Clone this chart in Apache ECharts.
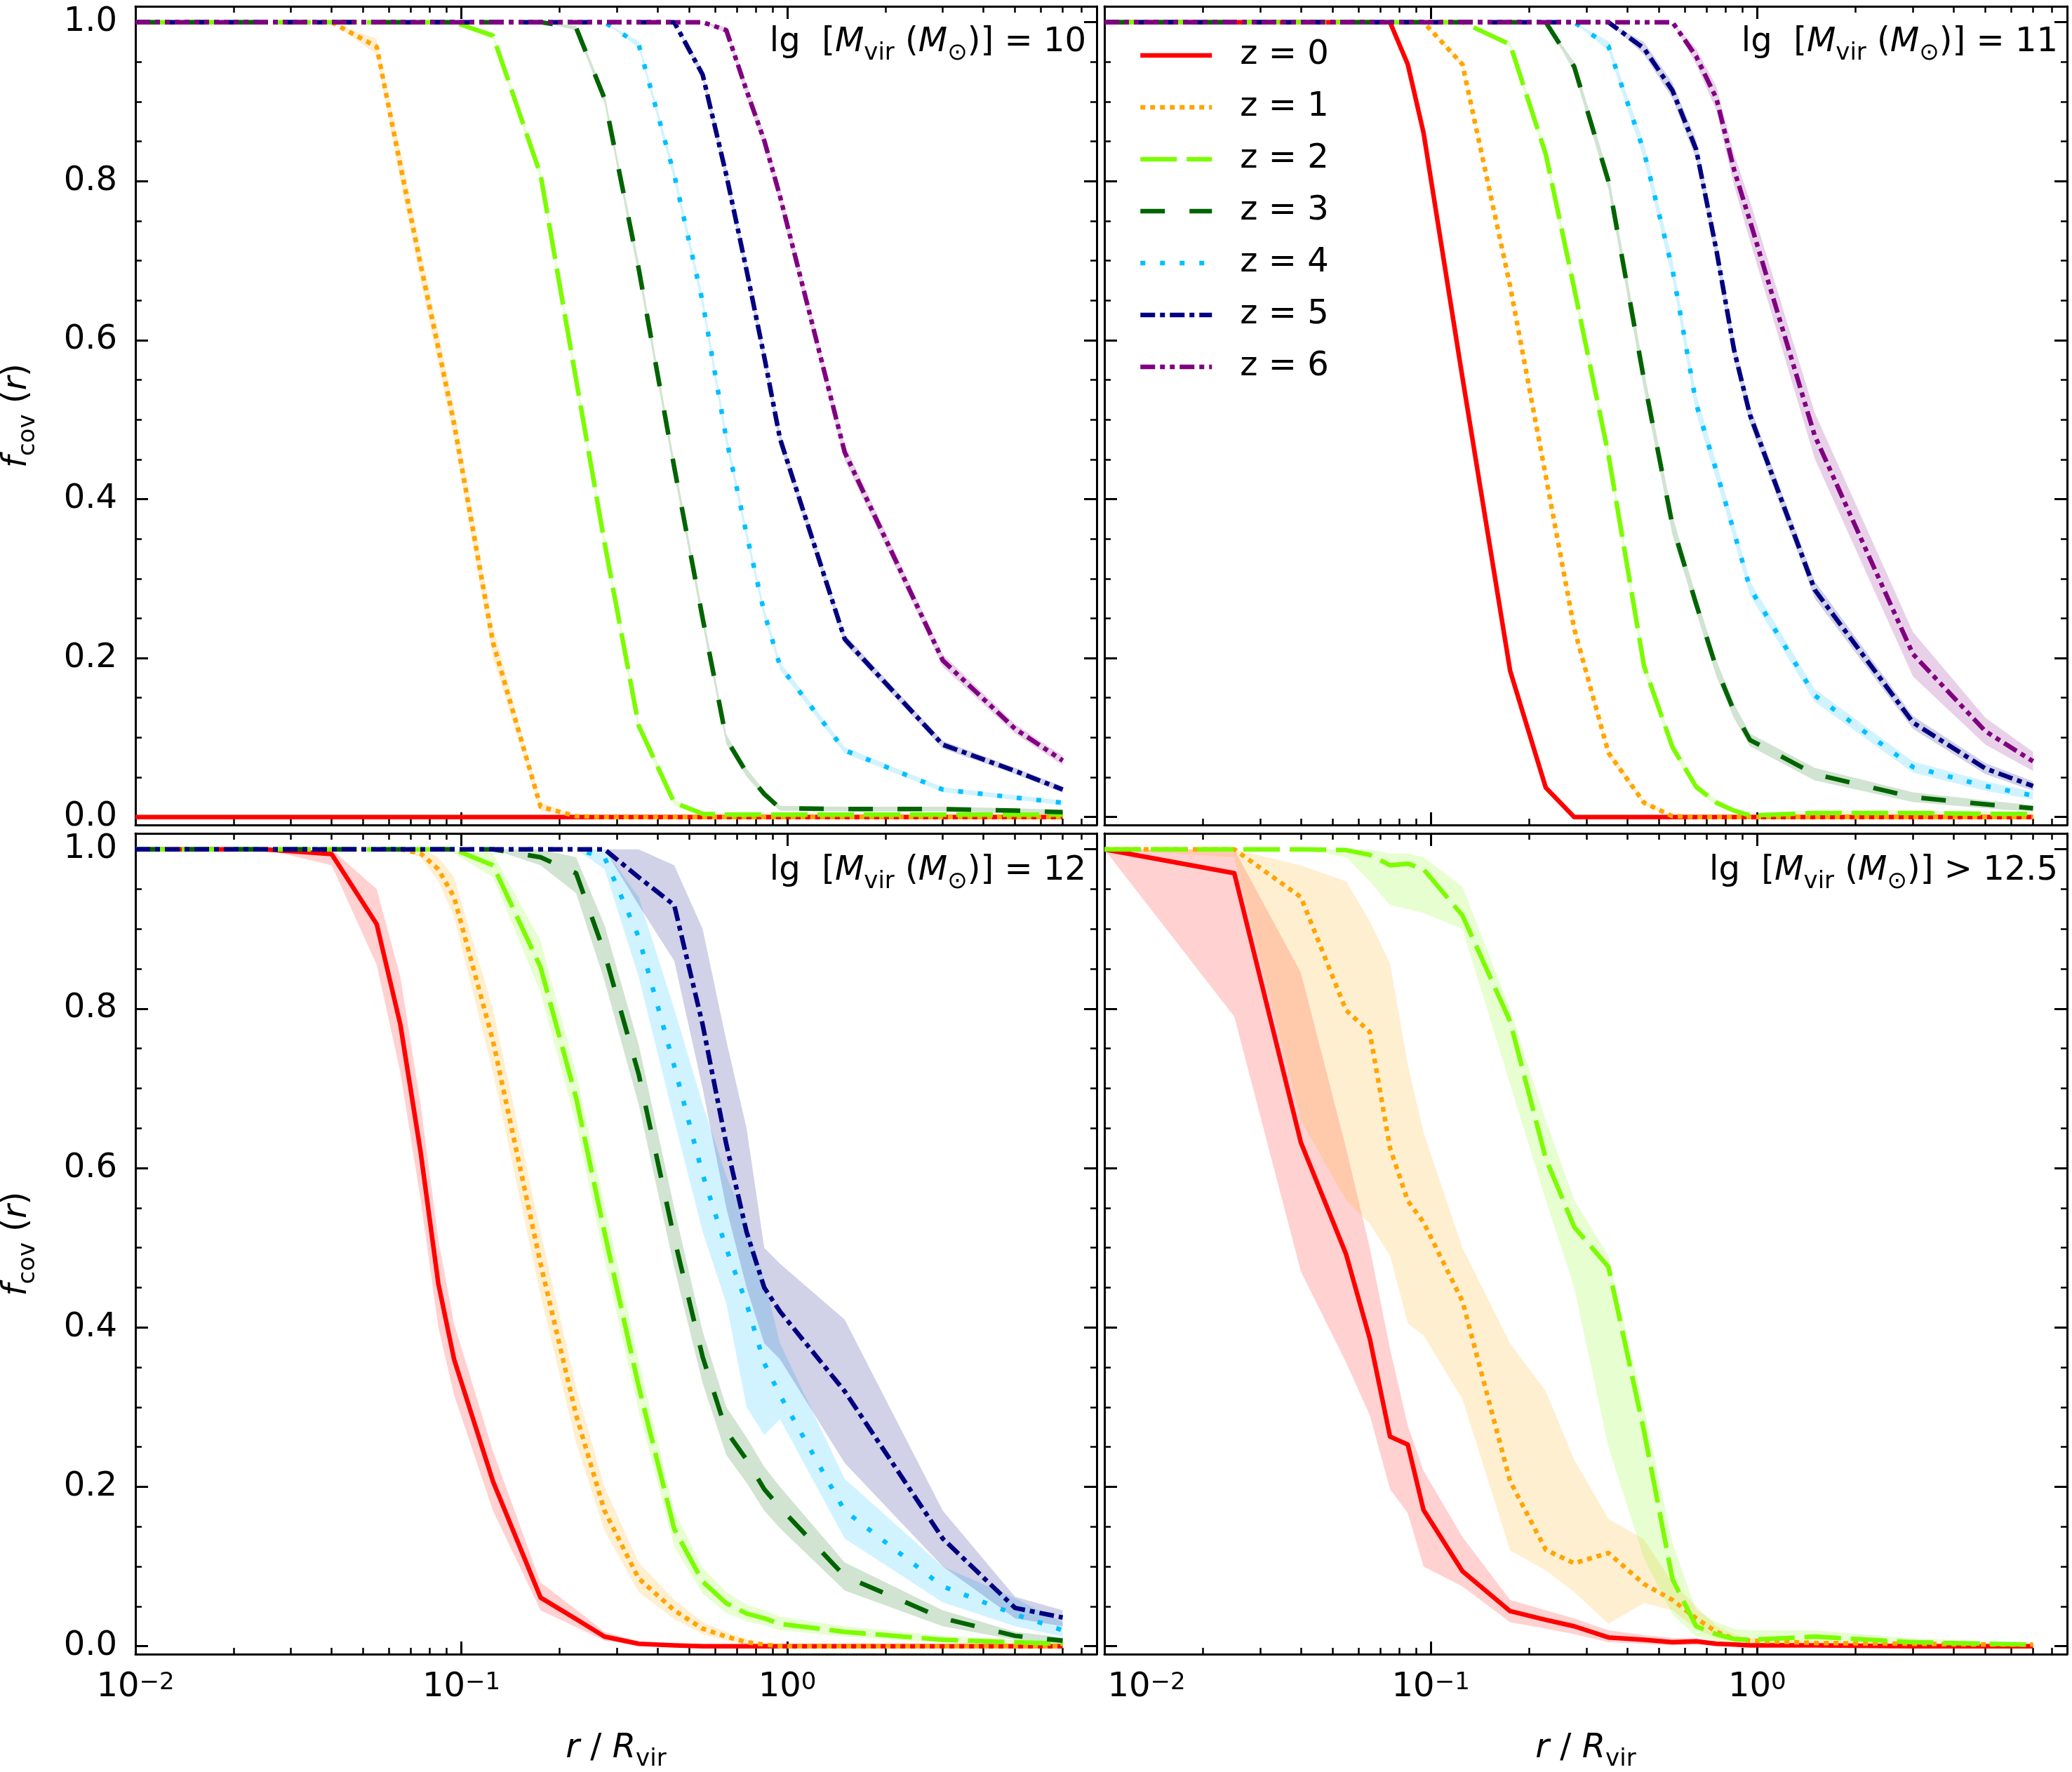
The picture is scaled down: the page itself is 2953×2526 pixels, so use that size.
<!DOCTYPE html>
<html>
<head>
<meta charset="utf-8">
<script src="https://cdn.jsdelivr.net/npm/echarts@6/dist/echarts.min.js"></script>
<style>html,body{margin:0;padding:0;background:#fff}#c{width:2953px;height:2526px}</style>
</head>
<body>
<div id="c"></div>
<script>
// ---------------- data ----------------
const R = [0.01, 0.025, 0.04, 0.055, 0.065, 0.075, 0.085, 0.095, 0.125, 0.175, 0.225, 0.275, 0.35, 0.45, 0.55, 0.65, 0.75, 0.85, 0.95, 1.5, 3, 5, 7];
const Z_LABELS = ['z = 0', 'z = 1', 'z = 2', 'z = 3', 'z = 4', 'z = 5', 'z = 6'];
const X_MAJOR = [0.01, 0.1, 1];
const X_MINOR = [0.02, 0.03, 0.04, 0.05, 0.06, 0.07, 0.08, 0.09, 0.2, 0.3, 0.4, 0.5, 0.6, 0.7, 0.8, 0.9, 2, 3, 4, 5, 6, 7, 8];
const Y_MAJOR = [0, 0.2, 0.4, 0.6, 0.8, 1.0];
const Y_MINOR = [0.05, 0.1, 0.15, 0.25, 0.3, 0.35, 0.45, 0.5, 0.55, 0.65, 0.7, 0.75, 0.85, 0.9, 0.95];
const PANEL_MASS = ['= 10', '= 11', '= 12', '> 12.5'];

// Panel A: lg Mvir = 10
const A_Z0 = [0,0,0,0,0,0,0,0,0,0,0,0,0,0,0,0,0,0,0,0,0,0,0];
const A_Z1 = [1,1,1,0.969,0.82,0.695,0.59,0.495,0.22,0.013,0.001,0,0,0,0,0,0,0,0,0,0,0,0];
const A_Z1_E = [0,0,0,0.01,0.02,0.02,0.02,0.02,0.02,0.006,0,0,0,0,0,0,0,0,0,0,0,0,0];
const A_Z2 = [1,1,1,1,1,1,1,1,0.983,0.808,0.55,0.345,0.115,0.018,0.004,0.003,0.003,0.003,0.003,0.003,0.003,0.003,0.003];
const A_Z2_E = [0,0,0,0,0,0,0,0,0.004,0.006,0.008,0.008,0.006,0.004,0.002,0.002,0.002,0.002,0.002,0.002,0.002,0.002,0.002];
const A_Z3 = [1,1,1,1,1,1,1,1,1,1,0.993,0.904,0.69,0.44,0.25,0.098,0.056,0.029,0.011,0.01,0.01,0.008,0.006];
const A_Z3_E = [0,0,0,0,0,0,0,0,0,0,0.003,0.006,0.008,0.008,0.008,0.006,0.005,0.004,0.003,0.003,0.003,0.003,0.003];
const A_Z4 = [1,1,1,1,1,1,1,1,1,1,1,1,0.972,0.808,0.648,0.476,0.356,0.257,0.19,0.084,0.0345,0.0245,0.018];
const A_Z4_E = [0,0,0,0,0,0,0,0,0,0,0,0,0.004,0.007,0.008,0.008,0.007,0.006,0.005,0.004,0.003,0.003,0.003];
const A_Z5 = [1,1,1,1,1,1,1,1,1,1,1,1,1,1,0.934,0.808,0.688,0.579,0.476,0.224,0.091,0.058,0.0345];
const A_Z5_E = [0,0,0,0,0,0,0,0,0,0,0,0,0,0,0.006,0.008,0.008,0.008,0.008,0.006,0.005,0.004,0.004];
const A_Z6 = [1,1,1,1,1,1,1,1,1,1,1,1,1,1,1,0.99,0.914,0.851,0.781,0.459,0.197,0.111,0.071];
const A_Z6_E = [0,0,0,0,0,0,0,0,0,0,0,0,0,0,0,0.004,0.008,0.009,0.01,0.01,0.008,0.006,0.006];

// Panel B: lg Mvir = 11
const B_Z0 = [1,1,1,1,1,1,0.947,0.861,0.553,0.184,0.037,0,0,0,0,0,0,0,0,0,0,0,0];
const B_Z0_E = [0,0,0,0,0,0,0.004,0.005,0.006,0.005,0.004,0,0,0,0,0,0,0,0,0,0,0,0];
const B_Z1 = [1,1,1,1,1,1,1,1,0.947,0.668,0.429,0.237,0.081,0.018,0.001,0,0,0,0,0,0,0,0];
const B_Z1_E = [0,0,0,0,0,0,0,0,0.004,0.006,0.007,0.007,0.005,0.003,0.001,0,0,0,0,0,0,0,0];
const B_Z2 = [1,1,1,1,1,1,1,1,1,0.972,0.834,0.665,0.456,0.19,0.088,0.038,0.018,0.008,0.002,0.005,0.005,0.004,0.004];
const B_Z2_E = [0,0,0,0,0,0,0,0,0,0.004,0.007,0.008,0.009,0.008,0.006,0.005,0.004,0.003,0.002,0.003,0.003,0.003,0.003];
const B_Z3 = [1,1,1,1,1,1,1,1,1,1,1,0.944,0.80,0.55,0.367,0.268,0.187,0.133,0.097,0.054,0.025,0.016,0.011];
const B_Z3_E = [0,0,0,0,0,0,0,0,0,0,0,0.006,0.01,0.012,0.012,0.01,0.01,0.009,0.008,0.008,0.006,0.005,0.004];
const B_Z4 = [1,1,1,1,1,1,1,1,1,1,1,1,0.97,0.837,0.689,0.52,0.435,0.358,0.288,0.153,0.063,0.039,0.027];
const B_Z4_E = [0,0,0,0,0,0,0,0,0,0,0,0,0.006,0.01,0.012,0.012,0.011,0.01,0.009,0.008,0.007,0.006,0.005];
const B_Z5 = [1,1,1,1,1,1,1,1,1,1,1,1,1,0.967,0.914,0.84,0.713,0.587,0.506,0.286,0.119,0.061,0.039];
const B_Z5_E = [0,0,0,0,0,0,0,0,0,0,0,0,0,0.008,0.01,0.012,0.012,0.012,0.011,0.011,0.008,0.007,0.006];
const B_Z6 = [1,1,1,1,1,1,1,1,1,1,1,1,1,1,1,0.957,0.904,0.814,0.75,0.48,0.205,0.108,0.07];
const B_Z6_E = [0,0,0,0,0,0,0,0,0,0,0,0,0,0,0,0.01,0.015,0.02,0.025,0.029,0.028,0.017,0.012];

// Panel C: lg Mvir = 12
const C_Z0 = [1,1,0.994,0.906,0.78,0.62,0.455,0.36,0.207,0.061,0.034,0.012,0.003,0.001,0,0,0,0,0,0,0,0,0];
const C_Z0_LO = [1,1,0.98,0.855,0.72,0.56,0.40,0.315,0.17,0.045,0.024,0.007,0.001,0,0,0,0,0,0,0,0,0,0];
const C_Z0_HI = [1,1,1,0.95,0.84,0.68,0.51,0.405,0.245,0.08,0.046,0.018,0.006,0.002,0.001,0,0,0,0,0,0,0,0];
const C_Z1 = [1,1,1,1,1,0.995,0.975,0.94,0.76,0.48,0.29,0.17,0.085,0.045,0.022,0.012,0.005,0.002,0,0,0,0,0];
const C_Z1_LO = [1,1,1,1,1,0.99,0.96,0.915,0.72,0.44,0.255,0.145,0.068,0.034,0.015,0.007,0.002,0,0,0,0,0,0];
const C_Z1_HI = [1,1,1,1,1,1,0.99,0.965,0.80,0.52,0.325,0.2,0.105,0.058,0.03,0.018,0.009,0.004,0.001,0,0,0,0];
const C_Z2 = [1,1,1,1,1,1,1,1,0.98,0.852,0.688,0.519,0.326,0.147,0.081,0.054,0.041,0.035,0.028,0.018,0.008,0.005,0.003];
const C_Z2_LO = [1,1,1,1,1,1,1,0.995,0.965,0.82,0.655,0.485,0.295,0.125,0.066,0.042,0.031,0.026,0.02,0.012,0.004,0.002,0.001];
const C_Z2_HI = [1,1,1,1,1,1,1,1,0.995,0.885,0.72,0.555,0.36,0.17,0.098,0.068,0.052,0.045,0.037,0.025,0.013,0.008,0.005];
const C_Z3 = [1,1,1,1,1,1,1,1,1,0.99,0.97,0.87,0.718,0.512,0.363,0.27,0.234,0.197,0.174,0.088,0.035,0.013,0.007];
const C_Z3_LO = [1,1,1,1,1,1,1,1,1,0.98,0.945,0.835,0.68,0.475,0.33,0.24,0.205,0.17,0.148,0.07,0.025,0.008,0.003];
const C_Z3_HI = [1,1,1,1,1,1,1,1,1,1,0.99,0.905,0.755,0.55,0.395,0.30,0.262,0.225,0.2,0.105,0.045,0.018,0.011];
const C_Z4 = [1,1,1,1,1,1,1,1,1,1,1,0.99,0.89,0.728,0.592,0.499,0.43,0.355,0.315,0.17,0.075,0.04,0.02];
const C_Z4_LO = [1,1,1,1,1,1,1,1,1,1,1,0.975,0.84,0.66,0.52,0.43,0.30,0.265,0.285,0.135,0.055,0.025,0.012];
const C_Z4_HI = [1,1,1,1,1,1,1,1,1,1,1,1,0.94,0.80,0.68,0.59,0.53,0.46,0.38,0.21,0.10,0.06,0.03];
const C_Z5 = [1,1,1,1,1,1,1,1,1,1,1,1,0.965,0.93,0.78,0.63,0.52,0.45,0.42,0.32,0.135,0.048,0.036];
const C_Z5_LO = [1,1,1,1,1,1,1,1,1,1,1,1,0.93,0.86,0.70,0.55,0.45,0.38,0.36,0.23,0.10,0.035,0.025];
const C_Z5_HI = [1,1,1,1,1,1,1,1,1,1,1,1,1,0.98,0.90,0.76,0.65,0.50,0.48,0.41,0.17,0.062,0.045];

// Panel D: lg Mvir > 12.5
const D_Z0 = [1,0.97,0.632,0.492,0.386,0.263,0.253,0.171,0.094,0.044,0.033,0.025,0.011,0.008,0.005,0.006,0.003,0.002,0.001,0.001,0,0,0];
const D_Z0_LO = [1,0.79,0.47,0.356,0.29,0.197,0.167,0.10,0.075,0.03,0.022,0.015,0.005,0.003,0.001,0.002,0.001,0,0,0,0,0,0];
const D_Z0_HI = [1,1,0.845,0.625,0.50,0.373,0.277,0.22,0.137,0.058,0.045,0.035,0.02,0.014,0.01,0.01,0.006,0.004,0.003,0.002,0.001,0.001,0.001];
const D_Z1 = [1,1,0.94,0.798,0.771,0.625,0.559,0.532,0.433,0.207,0.121,0.104,0.117,0.078,0.058,0.035,0.018,0.009,0.007,0.004,0.003,0.002,0.002];
const D_Z1_LO = [1,0.99,0.66,0.56,0.53,0.49,0.405,0.39,0.31,0.12,0.095,0.068,0.028,0.054,0.045,0.022,0.01,0.005,0.004,0.002,0.001,0.001,0.001];
const D_Z1_HI = [1,1,0.98,0.96,0.91,0.857,0.73,0.645,0.50,0.38,0.32,0.234,0.16,0.134,0.08,0.05,0.025,0.015,0.01,0.006,0.004,0.003,0.003];
const D_Z2 = [1,1,1,0.999,0.993,0.98,0.982,0.975,0.917,0.784,0.612,0.526,0.476,0.27,0.084,0.025,0.015,0.009,0.008,0.012,0.005,0.003,0.002];
const D_Z2_LO = [1,1,1,0.99,0.96,0.93,0.925,0.92,0.90,0.705,0.56,0.45,0.25,0.11,0.04,0.012,0.006,0.003,0.002,0.005,0.002,0.001,0.001];
const D_Z2_HI = [1,1,1,1,1,0.995,0.995,0.99,0.953,0.80,0.66,0.56,0.49,0.30,0.13,0.045,0.03,0.022,0.02,0.02,0.01,0.006,0.004];

// ---------------- styling ----------------
const FONT = 'DejaVu Sans';
const COLORS = ['#ff0000', '#ffa500', '#7cfc00', '#006400', '#00bfff', '#000080', '#800080'];
const DASHES = ['solid', [7, 7], [52, 14], [35, 35], [7, 21], [21, 7, 7, 7], [21, 7, 7, 7, 7, 7]];
const LW = 6.5;
const BAND_ALPHA = 0.18;

const GRIDS = [
  {left: 189, top: 9, width: 1374, height: 1167},
  {left: 1574, top: 9, width: 1372, height: 1167},
  {left: 189, top: 1188, width: 1374, height: 1170},
  {left: 1574, top: 1188, width: 1372, height: 1170}
];

const PANELS = [
  [{z:0, y:A_Z0}, {z:1, y:A_Z1, e:A_Z1_E}, {z:2, y:A_Z2, e:A_Z2_E}, {z:3, y:A_Z3, e:A_Z3_E},
   {z:4, y:A_Z4, e:A_Z4_E}, {z:5, y:A_Z5, e:A_Z5_E}, {z:6, y:A_Z6, e:A_Z6_E}],
  [{z:0, y:B_Z0, e:B_Z0_E}, {z:1, y:B_Z1, e:B_Z1_E}, {z:2, y:B_Z2, e:B_Z2_E}, {z:3, y:B_Z3, e:B_Z3_E},
   {z:4, y:B_Z4, e:B_Z4_E}, {z:5, y:B_Z5, e:B_Z5_E}, {z:6, y:B_Z6, e:B_Z6_E}],
  [{z:0, y:C_Z0, lo:C_Z0_LO, hi:C_Z0_HI}, {z:1, y:C_Z1, lo:C_Z1_LO, hi:C_Z1_HI},
   {z:2, y:C_Z2, lo:C_Z2_LO, hi:C_Z2_HI}, {z:3, y:C_Z3, lo:C_Z3_LO, hi:C_Z3_HI},
   {z:4, y:C_Z4, lo:C_Z4_LO, hi:C_Z4_HI}, {z:5, y:C_Z5, lo:C_Z5_LO, hi:C_Z5_HI}],
  [{z:0, y:D_Z0, lo:D_Z0_LO, hi:D_Z0_HI}, {z:1, y:D_Z1, lo:D_Z1_LO, hi:D_Z1_HI},
   {z:2, y:D_Z2, lo:D_Z2_LO, hi:D_Z2_HI}]
];

const RICH = {
  n: {fontFamily: FONT, fontSize: 48, lineHeight: 60, verticalAlign: 'top', color: '#000'},
  i: {fontFamily: FONT, fontSize: 48, lineHeight: 60, verticalAlign: 'top', fontStyle: 'italic', color: '#000'},
  nl: {fontFamily: FONT, fontSize: 48, lineHeight: 60, verticalAlign: 'top', color: '#000', padding: [0, 0, 0, 120]},
  s: {fontFamily: FONT, fontSize: 34, lineHeight: 34, verticalAlign: 'top', padding: [22, 0, 0, 0], color: '#000'},
  p: {fontFamily: FONT, fontSize: 34, lineHeight: 34, verticalAlign: 'top', color: '#000'}
};

function hexA(hex, a) {
  const v = parseInt(hex.slice(1), 16);
  return 'rgba(' + ((v >> 16) & 255) + ',' + ((v >> 8) & 255) + ',' + (v & 255) + ',' + a + ')';
}

function logLabel(shiftFirst) {
  return function (v) {
    const e = Math.round(Math.log10(v));
    const ex = e < 0 ? '\u2212' + (-e) : String(e);
    const base = (shiftFirst && e === -2) ? 'nl' : 'n';
    return '{' + base + '|10}{p|' + ex + '}';
  };
}

const xAxes = [], yAxes = [];
GRIDS.forEach((g, gi) => {
  const bottomRow = gi >= 2, leftCol = gi % 2 === 0;
  const common = {type: 'log', gridIndex: gi, min: 0.01, max: 8.9, logBase: 10,
    splitLine: {show: false}, axisPointer: {show: false}};
  const line = {show: true, onZero: false, lineStyle: {color: '#000', width: 3}};
  const noLine = {show: false, onZero: false};
  xAxes.push(Object.assign({}, common, {
    position: 'bottom', axisLine: line,
    axisTick: {show: true, inside: true, length: 18, lineStyle: {color: '#000', width: 3}, customValues: X_MAJOR},
    axisLabel: {show: bottomRow, customValues: X_MAJOR, margin: 24, formatter: logLabel(gi === 3), rich: RICH},
    name: bottomRow ? '{i|r}{n| / }{i|R}{s|vir}' : '', nameLocation: 'middle', nameGap: 111,
    nameTextStyle: {rich: RICH, fontFamily: FONT, fontSize: 48, color: '#000'}
  }));
  xAxes.push(Object.assign({}, common, {
    position: 'bottom', axisLine: noLine,
    axisTick: {show: true, inside: true, length: 9, lineStyle: {color: '#000', width: 2.5}, customValues: X_MINOR},
    axisLabel: {show: false}
  }));
  xAxes.push(Object.assign({}, common, {
    position: 'top', axisLine: line,
    axisTick: {show: true, inside: true, length: 18, lineStyle: {color: '#000', width: 3}, customValues: X_MAJOR},
    axisLabel: {show: false}
  }));
  xAxes.push(Object.assign({}, common, {
    position: 'top', axisLine: noLine,
    axisTick: {show: true, inside: true, length: 9, lineStyle: {color: '#000', width: 2.5}, customValues: X_MINOR},
    axisLabel: {show: false}
  }));

  const ycommon = {type: 'value', gridIndex: gi, min: -0.01, max: 1.02, splitLine: {show: false}, axisPointer: {show: false}};
  yAxes.push(Object.assign({}, ycommon, {
    position: 'left', axisLine: line,
    axisTick: {show: true, inside: true, length: 18, lineStyle: {color: '#000', width: 3}, customValues: Y_MAJOR},
    axisLabel: {show: leftCol, customValues: Y_MAJOR, margin: 26, fontFamily: FONT, fontSize: 48, color: '#000',
      formatter: v => v.toFixed(1)},
    name: leftCol ? '{i|f}{s|cov}{n| (}{i|r}{n|)}' : '', nameLocation: 'middle', nameGap: 132,
    nameTextStyle: {rich: RICH, fontFamily: FONT, fontSize: 48, color: '#000'}
  }));
  yAxes.push(Object.assign({}, ycommon, {
    position: 'left', axisLine: noLine,
    axisTick: {show: true, inside: true, length: 9, lineStyle: {color: '#000', width: 2.5}, customValues: Y_MINOR},
    axisLabel: {show: false}
  }));
  yAxes.push(Object.assign({}, ycommon, {
    position: 'right', axisLine: line,
    axisTick: {show: true, inside: true, length: 18, lineStyle: {color: '#000', width: 3}, customValues: Y_MAJOR},
    axisLabel: {show: false}
  }));
  yAxes.push(Object.assign({}, ycommon, {
    position: 'right', axisLine: noLine,
    axisTick: {show: true, inside: true, length: 9, lineStyle: {color: '#000', width: 2.5}, customValues: Y_MINOR},
    axisLabel: {show: false}
  }));
});

function bandSeries(gi, z, lo, hi) {
  const fill = hexA(COLORS[z], BAND_ALPHA);
  return {
    type: 'custom', xAxisIndex: gi * 4, yAxisIndex: gi * 4, silent: true, animation: false, z: 2,
    data: [[R[0], 0]],
    renderItem: function (params, api) {
      const pts = [];
      for (let i = 0; i < R.length; i++) pts.push(api.coord([R[i], hi[i]]));
      for (let i = R.length - 1; i >= 0; i--) pts.push(api.coord([R[i], lo[i]]));
      return {type: 'polygon', shape: {points: pts}, style: {fill: fill, stroke: null}};
    }
  };
}

function lineSeries(gi, z, y) {
  return {
    type: 'line', name: Z_LABELS[z], xAxisIndex: gi * 4, yAxisIndex: gi * 4,
    data: R.map((r, i) => [r, y[i]]), symbol: 'none', silent: true, animation: false, z: 2,
    color: COLORS[z], itemStyle: {color: COLORS[z]},
    lineStyle: {color: COLORS[z], width: LW, type: DASHES[z], cap: 'butt', join: 'round'},
    emphasis: {disabled: true}
  };
}

const series = [];
PANELS.forEach((curves, gi) => {
  curves.forEach(c => {
    let lo = c.lo, hi = c.hi;
    if (c.e) {
      lo = c.y.map((v, i) => v - c.e[i]);
      hi = c.y.map((v, i) => v + c.e[i]);
    }
    if (lo && hi) series.push(bandSeries(gi, c.z, lo, hi));
    series.push(lineSeries(gi, c.z, c.y));
  });
});

const ANNOT_POS = [{right: 1405, top: 37}, {right: 20, top: 37}, {right: 1405, top: 1218}, {right: 20, top: 1218}];
const titles = PANEL_MASS.map((m, k) => ({
  text: '{n|lg  [}{i|M}{s|vir}{n| (}{i|M}{s|\u2299}{n|)] ' + m + '}',
  right: ANNOT_POS[k].right, top: ANNOT_POS[k].top, padding: 0,
  textStyle: {fontFamily: FONT, fontSize: 48, fontWeight: 'normal', color: '#000', rich: RICH}
}));

const chart = echarts.init(document.getElementById('c'), null, {renderer: 'canvas'});
chart.setOption({
  backgroundColor: '#fff',
  animation: false,
  title: titles,
  legend: {
    data: Z_LABELS, left: 1622, top: 54, orient: 'vertical', padding: 0,
    itemWidth: 102, itemHeight: 20, itemGap: 24, selectedMode: false,
    lineStyle: {width: LW},
    itemStyle: {opacity: 0},
    textStyle: {fontFamily: FONT, fontSize: 48, color: '#000', lineHeight: 50, padding: [0, 0, 0, 35]}
  },
  grid: GRIDS.map(g => Object.assign({containLabel: false}, g)),
  xAxis: xAxes,
  yAxis: yAxes,
  series: series
});
</script>
</body>
</html>
